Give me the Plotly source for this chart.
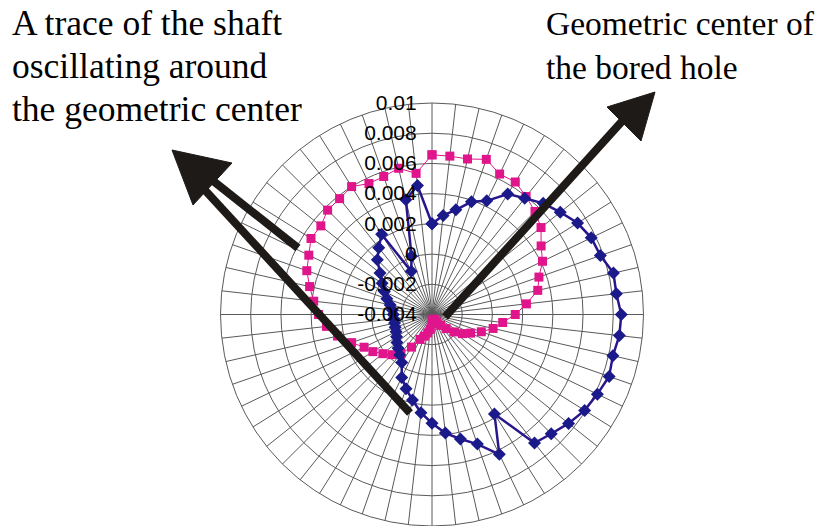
import plotly.graph_objects as go

# The page puts the figure 8px in from the top-left corner, so the figure is
# 816x518 and reference pixel (X, Y) corresponds to figure pixel (X-8, Y-8).
W, H = 816, 518
OFF = 8

# 56 equally spaced categories (Excel radar chart, first category at top, clockwise)
categories = [str(i + 1) for i in range(56)]

# Navy series: trace of the shaft
shaft_trace = [
    0.00201, 0.00260, 0.00311, 0.00390, 0.00435, 0.00542, 0.00584, 0.00641,
    0.00686, 0.00738, 0.00770, 0.00781, 0.00832, 0.00828, 0.00853, 0.00848,
    0.00828, 0.00842, 0.00815, 0.00793, 0.00756, 0.00716, 0.00688, 0.00377,
    0.00627, 0.00509, 0.00445, 0.00390, 0.00320, 0.00254, 0.00181, 0.00120,
    0.00062, -0.00024, -0.00057, -0.00083, -0.00103, -0.00123, -0.00136, -0.00142,
    -0.00146, -0.00146, -0.00144, -0.00136, -0.00116, -0.00083, -0.00050, -0.00010,
    0.00040, 0.00112, 0.00165, 0.00227, -0.00083, 0.00009, 0.00379, 0.00459,
]

# Magenta series: geometric center of the bored hole
bored_hole = [
    0.00657, 0.00655, 0.00656, 0.00688, 0.00632, 0.00636, 0.00599, 0.00564,
    0.00523, 0.00453, 0.00412, 0.00350, 0.00318, 0.00229, 0.00151, 0.00071,
    0.00015, -0.00054, -0.00116, -0.00162, -0.00215, -0.00268, -0.00308, -0.00341,
    -0.00360, -0.00367, -0.00367, -0.00360, -0.00341, -0.00301, -0.00275, -0.00248,
    -0.00217, -0.00145, -0.00070, -0.00024, 0.00016, 0.00062, 0.00099, 0.00164,
    0.00241, 0.00303, 0.00351, 0.00388, 0.00431, 0.00478, 0.00505, 0.00546,
    0.00541, 0.00577, 0.00581, 0.00600, 0.00562, 0.00568, 0.00593, 0.00540,
]

radial_ticks = [-0.004, -0.002, 0, 0.002, 0.004, 0.006, 0.008, 0.01]
radial_labels = ["-0.004", "-0.002", "0", "0.002", "0.004", "0.006", "0.008", "0.01"]


def P(x, y):
    return (x - OFF) / W, 1 - (y - OFF) / H


fig = go.Figure()

fig.add_trace(go.Scatterpolar(
    r=bored_hole + bored_hole[:1], theta=categories + categories[:1],
    mode="lines+markers",
    line=dict(color="#e0158c", width=1),
    marker=dict(symbol="square", size=9, color="#e0158c"),
    showlegend=False,
))
fig.add_trace(go.Scatterpolar(
    r=shaft_trace + shaft_trace[:1], theta=categories + categories[:1],
    mode="lines+markers",
    line=dict(color="#2a168c", width=2.5),
    marker=dict(symbol="diamond", size=10, color="#1a1a8a"),
    showlegend=False,
))

cx, cy, R = 432, 315, 212
x0, y0 = P(cx - R, cy - R)
x1, _ = P(cx + R, cy + R)

NB = "\u00a0\u00a0"

fig.update_layout(
    width=W, height=H,
    margin=dict(l=0, r=0, t=0, b=0),
    paper_bgcolor="white",
    plot_bgcolor="white",
    font=dict(family="Liberation Sans", color="black"),
    polar=dict(
        domain=dict(x=[x0, x1], y=[0, y0]),
        bgcolor="white",
        angularaxis=dict(
            type="category",
            direction="clockwise",
            rotation=90,
            showticklabels=False,
            ticks="",
            showgrid=True,
            gridcolor="#5a5a5a",
            gridwidth=1,
            showline=True,
            linecolor="#5a5a5a",
            linewidth=1,
        ),
        radialaxis=dict(
            range=[-0.004, 0.01],
            angle=90,
            tickangle=90,
            side="counterclockwise",
            tickmode="array",
            tickvals=radial_ticks,
            ticktext=[t + NB for t in radial_labels],
            tickfont=dict(family="Liberation Sans", size=21, color="black"),
            ticks="",
            showline=False,
            showgrid=True,
            gridcolor="#5a5a5a",
            gridwidth=1,
        ),
    ),
)

left_font = dict(family="Liberation Serif", size=35.5, color="black")
right_font = dict(family="Liberation Serif", size=33.5, color="black")
left_lines = [("A trace of the shaft", 23), ("oscillating around", 66), ("the geometric center", 109)]
right_lines = [("Geometric center of", 23), ("the bored hole", 67)]
for txt, yy in left_lines:
    px, py = P(10, yy)
    fig.add_annotation(x=px, y=py, xref="paper", yref="paper", text=txt, showarrow=False,
                       xanchor="left", yanchor="middle", font=left_font)
for txt, yy in right_lines:
    px, py = P(544, yy)
    fig.add_annotation(x=px, y=py, xref="paper", yref="paper", text=txt, showarrow=False,
                       xanchor="left", yanchor="middle", font=right_font)

arrow_color = "#1e1a17"
shafts = [((445, 317), (625, 118)), ((298, 248), (212, 180)), ((410, 413), (203, 188))]
for (ax, ay), (bx, by) in shafts:
    xa, ya = P(ax, ay)
    xb, yb = P(bx, by)
    fig.add_shape(type="line", xref="paper", yref="paper", x0=xa, y0=ya, x1=xb, y1=yb,
                  line=dict(color=arrow_color, width=8))

heads = [[(655, 92), (607, 107), (641, 141)], [(172, 150), (232, 163), (193, 205)]]
for tri in heads:
    pts = [P(x, y) for x, y in tri]
    path = "M {} {} L {} {} L {} {} Z".format(pts[0][0], pts[0][1], pts[1][0], pts[1][1], pts[2][0], pts[2][1])
    fig.add_shape(type="path", xref="paper", yref="paper", path=path,
                  fillcolor=arrow_color, line=dict(color=arrow_color, width=1))

fig.write_html("out.html")
